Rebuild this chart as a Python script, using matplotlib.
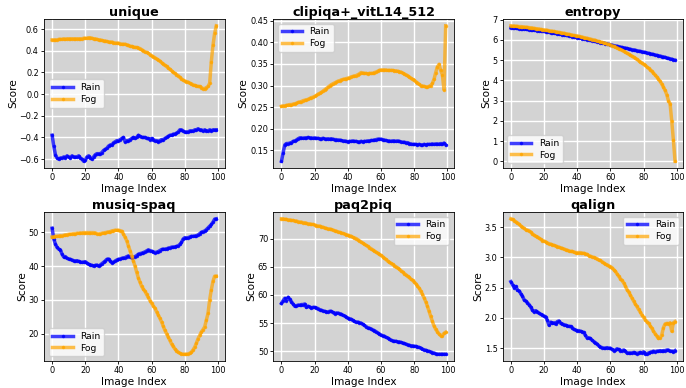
import matplotlib
matplotlib.use("Agg")
import matplotlib.pyplot as plt
import numpy as np

image_index = list(range(100))

unique_rain = [-0.38,-0.48,-0.56,-0.59,-0.60,-0.59,-0.59,-0.58,-0.59,-0.57,
               -0.58,-0.59,-0.57,-0.58,-0.58,-0.58,-0.57,-0.59,-0.60,-0.62,
               -0.61,-0.58,-0.57,-0.59,-0.60,-0.58,-0.56,-0.55,-0.55,-0.55,
               -0.54,-0.52,-0.51,-0.50,-0.48,-0.47,-0.47,-0.45,-0.44,-0.43,
               -0.43,-0.42,-0.41,-0.40,-0.44,-0.43,-0.43,-0.42,-0.41,-0.40,
               -0.41,-0.40,-0.38,-0.39,-0.40,-0.40,-0.40,-0.41,-0.41,-0.42,
               -0.41,-0.42,-0.43,-0.43,-0.44,-0.43,-0.42,-0.42,-0.41,-0.40,
               -0.39,-0.38,-0.38,-0.37,-0.37,-0.36,-0.35,-0.33,-0.33,-0.34,
               -0.35,-0.35,-0.35,-0.34,-0.34,-0.34,-0.33,-0.33,-0.32,-0.33,
               -0.33,-0.34,-0.33,-0.34,-0.34,-0.33,-0.34,-0.33,-0.33,-0.33]
unique_fog = [0.50,0.50,0.50,0.50,0.505,0.505,0.505,0.51,0.505,0.51,
              0.51,0.51,0.51,0.51,0.51,0.51,0.51,0.51,0.51,0.515,
              0.515,0.515,0.52,0.52,0.515,0.51,0.51,0.505,0.50,0.50,
              0.495,0.49,0.49,0.485,0.48,0.48,0.48,0.475,0.47,0.47,
              0.47,0.465,0.46,0.46,0.46,0.455,0.45,0.44,0.44,0.435,
              0.43,0.43,0.425,0.42,0.41,0.40,0.39,0.385,0.375,0.365,
              0.355,0.345,0.335,0.325,0.315,0.305,0.29,0.28,0.265,0.255,
              0.24,0.23,0.215,0.20,0.19,0.18,0.17,0.155,0.14,0.13,
              0.12,0.115,0.11,0.10,0.095,0.085,0.08,0.075,0.07,0.07,
              0.06,0.05,0.05,0.06,0.07,0.10,0.30,0.45,0.56,0.63]

clipiqa_rain = [0.125,0.145,0.163,0.166,0.166,0.167,0.168,0.171,0.172,0.174,
                0.177,0.179,0.179,0.178,0.179,0.179,0.180,0.179,0.179,0.178,
                0.179,0.178,0.178,0.177,0.177,0.178,0.177,0.176,0.177,0.176,
                0.177,0.176,0.175,0.175,0.174,0.174,0.173,0.172,0.172,0.171,
                0.170,0.171,0.171,0.172,0.171,0.171,0.170,0.170,0.171,0.170,
                0.171,0.171,0.172,0.172,0.173,0.173,0.174,0.175,0.176,0.176,
                0.176,0.175,0.174,0.173,0.172,0.172,0.171,0.172,0.172,0.171,
                0.172,0.171,0.170,0.169,0.169,0.168,0.168,0.166,0.165,0.164,
                0.164,0.164,0.163,0.164,0.163,0.163,0.164,0.163,0.164,0.164,
                0.164,0.165,0.164,0.165,0.165,0.164,0.166,0.165,0.167,0.163]
clipiqa_fog = [0.252,0.253,0.253,0.254,0.255,0.256,0.256,0.257,0.258,0.259,
               0.261,0.262,0.263,0.265,0.266,0.267,0.268,0.270,0.272,0.273,
               0.275,0.277,0.280,0.282,0.284,0.287,0.290,0.293,0.296,0.299,
               0.302,0.304,0.306,0.308,0.310,0.311,0.313,0.314,0.315,0.316,
               0.317,0.318,0.320,0.321,0.322,0.323,0.325,0.327,0.330,0.329,
               0.328,0.328,0.327,0.328,0.328,0.328,0.330,0.331,0.333,0.335,
               0.336,0.336,0.336,0.336,0.335,0.335,0.335,0.335,0.334,0.334,
               0.333,0.332,0.331,0.329,0.327,0.325,0.323,0.320,0.317,0.314,
               0.312,0.309,0.306,0.303,0.300,0.299,0.298,0.297,0.297,0.298,
               0.300,0.305,0.315,0.330,0.343,0.349,0.335,0.325,0.290,0.438]

entropy_rain = [6.60,6.59,6.58,6.58,6.57,6.56,6.55,6.55,6.54,6.53,
                6.52,6.51,6.50,6.49,6.48,6.47,6.46,6.45,6.44,6.43,
                6.42,6.41,6.39,6.38,6.36,6.35,6.34,6.32,6.31,6.29,
                6.28,6.26,6.25,6.23,6.22,6.20,6.18,6.17,6.15,6.14,
                6.12,6.10,6.09,6.07,6.05,6.04,6.02,6.00,5.98,5.97,
                5.95,5.93,5.91,5.89,5.87,5.85,5.84,5.82,5.80,5.78,
                5.76,5.74,5.72,5.70,5.69,5.67,5.65,5.63,5.61,5.60,
                5.58,5.56,5.54,5.52,5.51,5.49,5.47,5.45,5.43,5.42,
                5.40,5.38,5.36,5.34,5.32,5.30,5.28,5.26,5.24,5.22,
                5.20,5.18,5.16,5.14,5.11,5.09,5.07,5.05,5.02,5.00]
entropy_fog = [6.70,6.69,6.69,6.68,6.67,6.66,6.66,6.65,6.64,6.63,
               6.62,6.61,6.60,6.59,6.57,6.56,6.55,6.54,6.52,6.51,
               6.50,6.49,6.47,6.46,6.44,6.43,6.42,6.40,6.39,6.37,
               6.36,6.34,6.33,6.31,6.29,6.28,6.26,6.24,6.22,6.21,
               6.20,6.18,6.16,6.14,6.12,6.10,6.08,6.06,6.04,6.02,
               6.00,5.98,5.95,5.93,5.90,5.88,5.85,5.83,5.80,5.78,
               5.75,5.72,5.68,5.65,5.61,5.57,5.53,5.49,5.44,5.40,
               5.35,5.30,5.25,5.20,5.15,5.10,5.04,4.98,4.92,4.86,
               4.80,4.74,4.67,4.60,4.53,4.45,4.36,4.27,4.17,4.06,
               3.95,3.82,3.67,3.50,3.30,3.00,2.85,2.00,1.05,0.00]

musiq_rain = [51.2,48.0,46.5,45.5,45.0,44.8,43.5,42.7,42.8,42.3,
              42.1,42.0,41.8,41.6,41.5,41.6,41.4,41.2,41.1,41.2,
              41.3,40.9,40.5,40.4,40.2,40.0,40.2,40.3,40.0,40.3,
              40.7,41.1,41.5,42.0,42.1,41.5,41.0,41.1,41.5,41.8,
              42.0,42.1,42.3,42.4,42.5,42.8,43.0,42.7,42.5,42.6,
              42.8,43.1,43.5,43.7,43.8,44.0,44.2,44.5,44.8,44.6,
              44.4,44.2,44.0,44.1,44.3,44.6,44.9,45.0,45.0,45.1,
              45.3,45.4,45.6,45.6,45.7,45.8,46.0,46.4,47.0,48.0,
              48.4,48.3,48.4,48.6,48.8,48.8,48.9,49.0,49.2,49.6,
              50.0,50.2,50.4,50.8,51.3,51.8,52.3,53.0,53.9,54.0]
musiq_fog = [48.6,48.7,48.8,48.8,48.9,49.0,49.0,49.1,49.2,49.3,
             49.4,49.4,49.5,49.6,49.6,49.7,49.7,49.8,49.8,49.9,
             49.9,49.9,49.9,49.9,49.9,49.9,49.8,49.6,49.5,49.6,
             49.7,49.8,49.9,50.0,50.1,50.2,50.4,50.5,50.6,50.6,
             50.6,50.5,50.3,49.5,48.5,47.5,46.0,44.5,43.0,41.5,
             40.0,38.2,36.5,35.2,34.0,33.2,32.5,31.6,30.7,29.8,
             29.0,28.2,27.5,26.5,25.5,24.5,23.5,22.2,21.0,20.0,
             19.0,18.0,17.0,16.2,15.5,15.0,14.5,14.2,14.0,13.9,
             13.9,13.9,14.0,14.2,14.5,15.2,16.0,17.2,18.5,19.5,
             20.5,21.2,22.0,24.0,26.0,30.0,33.0,35.5,37.0,37.0]

paq2piq_rain = [58.5,59.0,59.4,59.0,59.6,59.2,58.8,58.4,58.0,58.1,
                58.2,58.2,58.3,58.3,58.4,57.8,58.0,57.9,57.7,57.8,
                57.8,57.7,57.6,57.4,57.3,57.2,57.1,57.0,57.0,57.1,
                57.1,56.9,56.7,56.8,56.8,56.7,56.6,56.4,56.3,56.1,
                55.9,55.8,55.7,55.5,55.3,55.2,55.2,55.1,55.0,54.8,
                54.6,54.4,54.2,54.1,54.0,53.8,53.7,53.5,53.3,53.1,
                52.9,52.8,52.7,52.5,52.4,52.2,52.0,51.9,51.8,51.8,
                51.7,51.7,51.6,51.5,51.4,51.3,51.2,51.1,51.0,51.0,
                50.9,50.9,50.8,50.7,50.6,50.4,50.3,50.2,50.1,50.0,
                49.9,49.8,49.7,49.6,49.5,49.5,49.5,49.5,49.5,49.5]
paq2piq_fog = [73.5,73.5,73.4,73.4,73.3,73.3,73.2,73.2,73.1,73.1,
               73.0,72.9,72.9,72.8,72.8,72.7,72.6,72.6,72.5,72.5,
               72.4,72.3,72.2,72.2,72.1,72.0,71.9,71.8,71.7,71.7,
               71.6,71.5,71.4,71.3,71.2,71.1,71.0,70.9,70.8,70.7,
               70.6,70.5,70.4,70.2,70.1,70.0,69.8,69.6,69.4,69.2,
               69.0,68.8,68.6,68.4,68.2,68.0,67.8,67.6,67.4,67.2,
               67.0,66.8,66.5,66.3,66.0,65.8,65.6,65.4,65.2,65.0,
               64.8,64.6,64.3,64.1,63.8,63.6,63.3,63.1,62.8,62.6,
               62.3,62.0,61.6,61.2,60.7,60.1,59.5,58.8,58.0,57.1,
               56.2,55.3,54.5,53.9,53.5,53.1,52.8,52.8,53.2,53.4]

qalign_rain = [2.60,2.55,2.50,2.52,2.46,2.45,2.40,2.36,2.30,2.28,
               2.25,2.22,2.18,2.13,2.10,2.12,2.10,2.08,2.06,2.05,
               2.03,2.02,1.96,1.88,1.93,1.91,1.92,1.90,1.94,1.95,
               1.91,1.90,1.89,1.88,1.87,1.86,1.86,1.84,1.81,1.80,
               1.79,1.79,1.78,1.77,1.76,1.71,1.67,1.67,1.66,1.63,
               1.61,1.59,1.57,1.54,1.52,1.51,1.50,1.50,1.51,1.50,
               1.50,1.48,1.46,1.47,1.49,1.48,1.46,1.46,1.47,1.45,
               1.42,1.42,1.42,1.42,1.43,1.42,1.41,1.42,1.43,1.42,
               1.44,1.41,1.40,1.42,1.43,1.44,1.45,1.44,1.45,1.45,
               1.46,1.45,1.46,1.46,1.47,1.47,1.45,1.45,1.44,1.46]
qalign_fog = [3.64,3.63,3.61,3.59,3.57,3.55,3.52,3.50,3.48,3.46,
              3.45,3.44,3.42,3.39,3.37,3.35,3.34,3.32,3.30,3.28,
              3.27,3.26,3.24,3.23,3.22,3.21,3.20,3.19,3.18,3.17,
              3.16,3.15,3.14,3.13,3.12,3.11,3.10,3.10,3.09,3.08,
              3.08,3.08,3.08,3.07,3.07,3.06,3.05,3.03,3.02,3.01,
              3.00,2.99,2.98,2.96,2.95,2.93,2.91,2.89,2.88,2.86,
              2.85,2.83,2.80,2.77,2.73,2.69,2.65,2.62,2.58,2.53,
              2.47,2.43,2.38,2.33,2.28,2.23,2.19,2.14,2.10,2.05,
              2.01,1.97,1.94,1.91,1.87,1.83,1.78,1.74,1.70,1.66,
              1.67,1.72,1.84,1.90,1.91,1.90,1.92,1.78,1.92,1.94]

metric_names = ["unique", "clipiqa+_vitL14_512", "entropy",
                "musiq-spaq", "paq2piq", "qalign"]
rain_series = [unique_rain, clipiqa_rain, entropy_rain,
               musiq_rain, paq2piq_rain, qalign_rain]
fog_series = [unique_fog, clipiqa_fog, entropy_fog,
              musiq_fog, paq2piq_fog, qalign_fog]
y_steps = [0.2, 0.05, 1, 10, 5, 0.5]
legend_locs = ["center left", "upper left", "lower left",
               "lower left", "upper right", "upper right"]

fig, axes = plt.subplots(2, 3, figsize=(6.86, 3.88), dpi=100)
fig.subplots_adjust(left=0.064, right=0.996, bottom=0.0696, top=0.951,
                    wspace=0.27, hspace=0.295)

for ax, name, r, f, step, loc in zip(axes.flat, metric_names, rain_series,
                                     fog_series, y_steps, legend_locs):
    ax.set_facecolor("#d3d3d3")
    ax.grid(True, color="white", linewidth=1.0)
    ax.set_axisbelow(True)
    ax.plot(image_index, r, color="blue", marker="o", markersize=1.5,
            linewidth=2.5, alpha=0.75, label="Rain")
    ax.plot(image_index, f, color="orange", marker="o", markersize=1.5,
            linewidth=2.5, alpha=0.7, label="Fog")
    ax.set_title(name, fontsize=9.2, fontweight="bold", pad=2.5)
    ax.set_xlabel("Image Index", fontsize=7.6, labelpad=1)
    ax.set_ylabel("Score", fontsize=7.6, labelpad=1)
    ax.tick_params(labelsize=5.9, length=2.5, width=0.6, pad=1.2)
    ax.set_xticks([0, 20, 40, 60, 80, 100])
    ax.yaxis.set_major_locator(plt.MultipleLocator(step))
    for s in ax.spines.values():
        s.set_linewidth(0.6)
    ax.legend(loc=loc, fontsize=6.7, handlelength=2.2, borderpad=0.4,
              labelspacing=0.3, framealpha=0.8)

fig.savefig("out.png", dpi=100)
